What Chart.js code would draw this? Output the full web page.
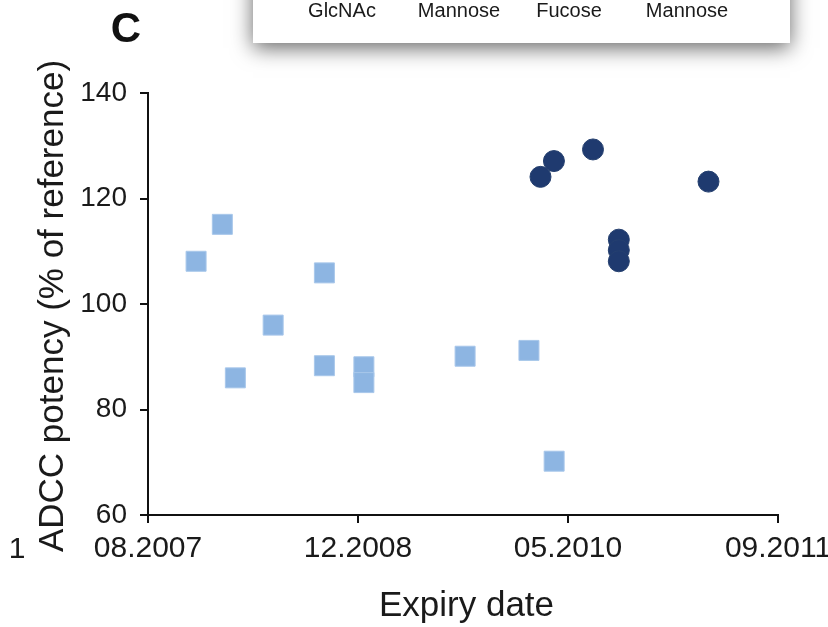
<!DOCTYPE html>
<html>
<head>
<meta charset="utf-8">
<script src="https://cdn.jsdelivr.net/npm/chart.js@4.4.1/dist/chart.umd.min.js"></script>
<style>
  html,body{margin:0;padding:0;background:#fff;}
  canvas{display:block;}
</style>
</head>
<body>
<canvas id="c" width="828" height="627"></canvas>
<script>
// ---- data ----
const xTickLabels = ['08.2007', '12.2008', '05.2010', '09.2011'];   // tick positions 0..3
const xTickValues = [0, 1, 2, 3];
const yTickValues = [60, 80, 100, 120, 140];

// light-blue squares (expiry position in tick units, ADCC potency %)
const squareX = [0.229, 0.354, 0.416, 0.596, 0.840, 0.840, 1.028, 1.028, 1.510, 1.814, 1.934];
const squareY = [108.1, 115.1, 86.0, 96.0, 105.9, 88.3, 88.1, 85.1, 90.1, 91.2, 70.2];

// dark-blue circles
const circleX = [1.869, 1.933, 2.119, 2.669, 2.242, 2.242, 2.242];
const circleY = [124.1, 127.1, 129.3, 123.2, 112.2, 110.2, 108.1];

const legendLabels = ['GlcNAc', 'Mannose', 'Fucose', 'Mannose'];
const panelLetter = 'C';
const xTitle = 'Expiry date';
const yTitle = 'ADCC potency (% of reference)';

const FONT = '"Liberation Sans", Arial, Helvetica, sans-serif';
const TEXT = '#1a1a1a';

const toPts = (xs, ys) => xs.map((x, i) => ({x: x, y: ys[i]}));

const decor = {
  id: 'decor',
  beforeDraw(chart) {
    const ctx = chart.ctx;
    ctx.save();
    ctx.fillStyle = '#ffffff';
    ctx.fillRect(0, 0, chart.width, chart.height);
    // cropped legend box with drop shadow
    ctx.shadowColor = 'rgba(0,0,0,0.6)';
    ctx.shadowBlur = 20;
    ctx.shadowOffsetX = 0;
    ctx.shadowOffsetY = 5;
    ctx.fillStyle = '#ffffff';
    ctx.fillRect(253, -40, 537, 83);
    ctx.restore();

    ctx.save();
    ctx.fillStyle = TEXT;
    ctx.font = '20px ' + FONT;
    ctx.textAlign = 'center';
    ctx.textBaseline = 'alphabetic';
    const lx = [342, 459, 569, 687];
    legendLabels.forEach((t, i) => ctx.fillText(t, lx[i], 17));
    ctx.restore();
  },
  afterDraw(chart) {
    const ctx = chart.ctx;
    ctx.save();
    ctx.fillStyle = '#111';
    ctx.font = 'bold 42px ' + FONT;
    ctx.textAlign = 'center';
    ctx.textBaseline = 'alphabetic';
    ctx.fillText(panelLetter, 126, 42);

    ctx.fillStyle = TEXT;
    ctx.font = '30px ' + FONT;
    ctx.fillText('1', 17, 558);

    // x title
    ctx.font = '35px ' + FONT;
    ctx.fillText(xTitle, 466.5, 616);

    // y title
    ctx.translate(63, 306);
    ctx.rotate(-Math.PI / 2);
    ctx.textAlign = 'center';
    ctx.textBaseline = 'alphabetic';
    ctx.fillText(yTitle, 0, 0);
    ctx.restore();
  }
};

new Chart(document.getElementById('c'), {
  type: 'scatter',
  data: {
    datasets: [
      {
        label: 'squares',
        data: toPts(squareX, squareY),
        pointStyle: 'rect',
        pointRadius: 14.14,
        pointHoverRadius: 14.14,
        backgroundColor: '#8db5e2',
        borderColor: '#a8c7ea',
        borderWidth: 1
      },
      {
        label: 'circles',
        data: toPts(circleX, circleY),
        pointStyle: 'circle',
        pointRadius: 10.5,
        pointHoverRadius: 10.5,
        backgroundColor: '#1f3a6f',
        borderColor: '#25406f',
        borderWidth: 1
      }
    ]
  },
  options: {
    responsive: false,
    animation: false,
    events: [],
    layout: { padding: { top: 93, right: 50, left: 0, bottom: 0 } },
    plugins: { legend: { display: false }, tooltip: { enabled: false } },
    scales: {
      x: {
        type: 'linear',
        min: 0,
        max: 3,
        afterBuildTicks: s => { s.ticks = xTickValues.map(v => ({ value: v })); },
        ticks: {
          callback: v => xTickLabels[xTickValues.indexOf(v)],
          font: { size: 30, family: FONT },
          color: TEXT,
          padding: 8,
          maxRotation: 0,
          autoSkip: false
        },
        grid: { drawOnChartArea: false, drawTicks: true, tickLength: 8, color: '#111', lineWidth: 2 },
        border: { display: true, color: '#111', width: 2 },
        afterFit: s => { s.height = 112; s.paddingLeft = 0; s.paddingRight = 0; }
      },
      y: {
        type: 'linear',
        min: 60,
        max: 140,
        afterBuildTicks: s => { s.ticks = yTickValues.map(v => ({ value: v })); },
        ticks: {
          font: { size: 28, family: FONT },
          color: TEXT,
          padding: 13
        },
        grid: { drawOnChartArea: false, drawTicks: true, tickLength: 8, color: '#111', lineWidth: 2 },
        border: { display: true, color: '#111', width: 2 },
        afterFit: s => { s.width = 148; s.paddingTop = 0; s.paddingBottom = 0; }
      }
    }
  },
  plugins: [decor]
});
</script>
</body>
</html>
